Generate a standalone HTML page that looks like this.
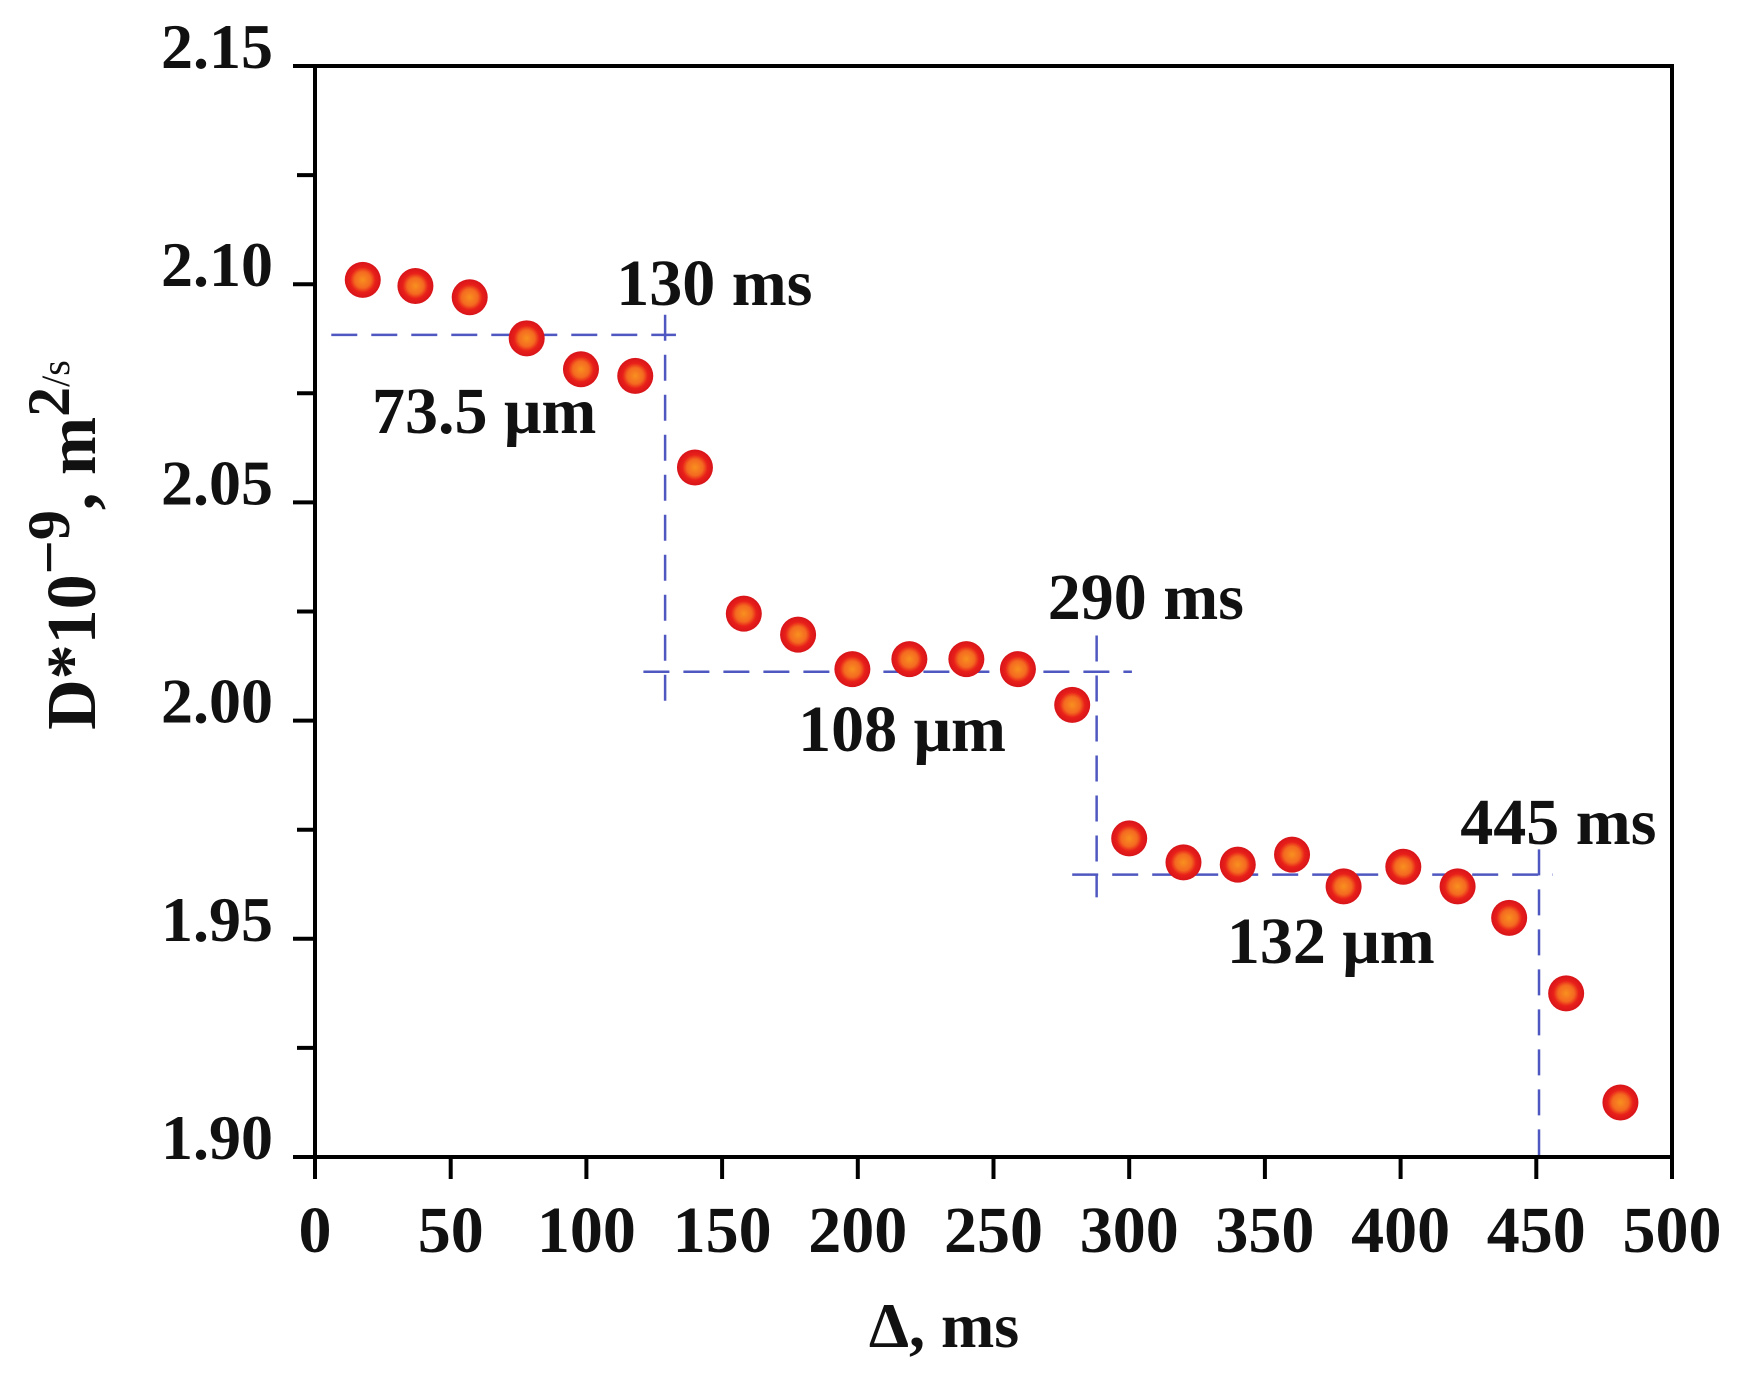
<!DOCTYPE html>
<html><head><meta charset="utf-8"><style>
html,body{margin:0;padding:0;background:#fff;}
svg{display:block;}
text{font-family:"Liberation Serif","Times New Roman",serif;font-weight:bold;fill:#111;}
</style></head><body>
<svg id="chart" width="1741" height="1375" viewBox="0 0 1741 1375" xmlns="http://www.w3.org/2000/svg">
<defs>
<radialGradient id="mk" cx="50%" cy="50%" r="50%">
<stop offset="0%" stop-color="#f8901f"/><stop offset="45%" stop-color="#f46a20"/><stop offset="70%" stop-color="#e8201a"/><stop offset="100%" stop-color="#d8141a"/>
</radialGradient>
</defs>
<g id="guides"></g>
<g id="points"></g>
<g id="axes"></g>
<g id="labels"></g>
</svg>
<script>
const xVals = [17.6,37,57,78,98,118,140,158,178,198,219,240,259,279,300,320,340,360,379,401,421,440,461,481];
const yVals = [2.101,2.0996,2.097,2.0876,2.0805,2.079,2.058,2.0245,2.0197,2.0118,2.0141,2.0141,2.0118,2.0036,1.973,1.9675,1.967,1.9693,1.962,1.9665,1.962,1.9548,1.9375,1.9125];
const xTicks = [0,50,100,150,200,250,300,350,400,450,500];
const xTickLabels = ["0","50","100","150","200","250","300","350","400","450","500"];
const yTicks = [1.90,1.95,2.00,2.05,2.10,2.15];
const yTickLabels = ["1.90","1.95","2.00","2.05","2.10","2.15"];
const yMinor = [1.925,1.975,2.025,2.075,2.125];
const hGuides = [[6,133,2.0884],[121,301,2.0112],[279,456,1.9647]];
const vGuides = [[129,2.093,2.002],[288,2.0195,1.9595],[451,1.9705,1.90]];
const annText = ["130 ms","73.5 μm","290 ms","108 μm","445 ms","132 μm"];
const annX = [111,21,270,178,422,336];
const annY = [2.0952,2.0659,2.0233,1.9930,1.9717,1.9445];

const X0=315,X1=1672,Y0=1157,Y1=66;
const sx=v=>X0+(v-0)/(500-0)*(X1-X0);
const sy=v=>Y0-(v-1.90)/(2.15-1.90)*(Y0-Y1);
const NS="http://www.w3.org/2000/svg";
function mk(tag,attrs,parent){const e=document.createElementNS(NS,tag);for(const k in attrs)e.setAttribute(k,attrs[k]);parent.appendChild(e);return e;}
const gG=document.getElementById('guides'),gP=document.getElementById('points'),gA=document.getElementById('axes'),gL=document.getElementById('labels');

hGuides.forEach((h,i)=>{
  const l=mk('line',{x1:sx(h[0]),x2:sx(h[1]),y1:sy(h[2]),y2:sy(h[2]),stroke:'#4f58c0','stroke-width':2.5,'stroke-dasharray':'26,14'},gG);
  
  
});
vGuides.forEach((v,i)=>{
  const l=mk('line',{x1:sx(v[0]),x2:sx(v[0]),y1:sy(v[1]),y2:sy(v[2]),stroke:'#4f58c0','stroke-width':2.5,'stroke-dasharray':'26,14'},gG);
  
  
});

xVals.forEach((x,i)=>{
  const c=mk('circle',{cx:sx(x),cy:sy(yVals[i]),r:18,fill:'url(#mk)'},gP);
  
  
});

const fr=mk('rect',{x:X0,y:Y1,width:X1-X0,height:Y0-Y1,fill:'none',stroke:'#000','stroke-width':4},gA);


xTicks.forEach((t,i)=>{
  mk('line',{x1:sx(t),x2:sx(t),y1:Y0,y2:Y0+22,stroke:'#000','stroke-width':4},gA);
  const tx=mk('text',{x:sx(t),y:1252,'text-anchor':'middle','font-size':66},gA);
  tx.textContent=xTickLabels[i];
  
  
});
yTicks.forEach((t,i)=>{
  mk('line',{x1:X0-22,x2:X0,y1:sy(t),y2:sy(t),stroke:'#000','stroke-width':4},gA);
  const tx=mk('text',{x:273,y:sy(t)+2,'text-anchor':'end','font-size':64},gA);
  tx.textContent=yTickLabels[i];
  
  
});
yMinor.forEach(t=>{mk('line',{x1:X0-18,x2:X0,y1:sy(t),y2:sy(t),stroke:'#000','stroke-width':4},gA);});

annText.forEach((s,i)=>{
  const tx=mk('text',{x:sx(annX[i]),y:sy(annY[i]),'font-size':66},gL);
  tx.textContent=s;
  
  
});

const xt=mk('text',{x:944,y:1347,'text-anchor':'middle','font-size':64},gL);
xt.textContent='Δ, ms';



const yt=mk('text',{x:0,y:0,'text-anchor':'middle','font-size':70,transform:'translate(95,545) rotate(-90)'},gL);


yt.innerHTML='D*10<tspan dy="-26" font-size="60">−9</tspan><tspan dy="26">, m</tspan><tspan dy="-26" font-size="60">2</tspan><tspan font-size="40" font-weight="normal">/s</tspan>';
</script>
</body></html>
